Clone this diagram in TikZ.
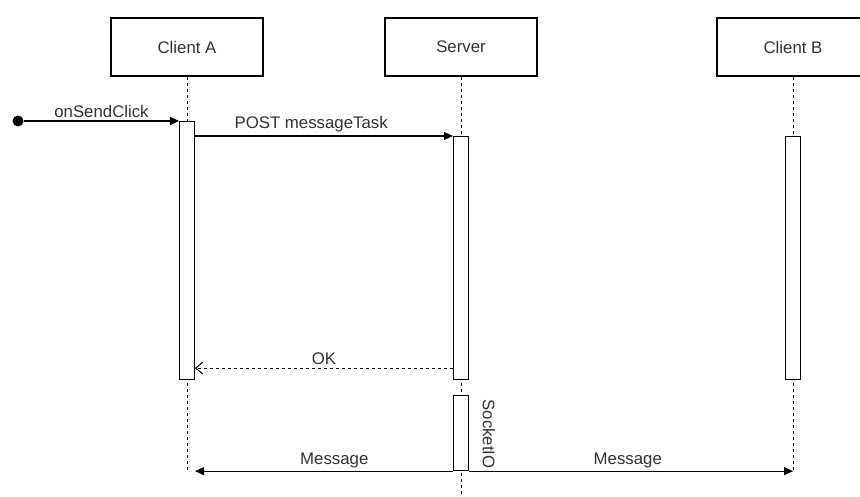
\documentclass[tikz,border=0pt]{standalone}
\usepackage{fontspec}
\setmainfont{Liberation Sans}
\usetikzlibrary{arrows.meta}

\begin{document}
\begin{tikzpicture}[x=1pt,y=-1pt,line width=1.1pt,
    font=\fontsize{16.8}{19}\selectfont,
    actor/.style={draw,minimum width=152pt,minimum height=58pt,text=black!80},
    bar/.style={draw,fill=white,minimum width=15pt,anchor=north,inner sep=0pt},
    life/.style={line width=0.9pt,dash pattern=on 3pt off 3pt},
    msg/.style={-{Triangle[length=9pt,width=8pt]}},
    ret/.style={dashed,-{Straight Barb[length=7pt,width=12pt,line width=1pt]}},
    lbl/.style={text=black!80,inner sep=3pt}]
    \useasboundingbox (0,0) rectangle (860,497);

    % participants
    \node[actor] (clientA) at (187,47) {Client A};
    \node[actor] (server) at (461,47) {Server};
    \node[actor] (clientB) at (793,47) {Client B};

    % lifelines
    \coordinate (endA) at (187,470);
    \coordinate (endS) at (461,497);
    \coordinate (endB) at (793,470);
    \draw[life] (clientA.south) -- (endA);
    \draw[life] (server.south) -- (endS);
    \draw[life] (clientB.south) -- (endB);

    % activations
    \node[bar,minimum height=258pt] (barA) at (187,121) {};
    \node[bar,minimum height=243pt] (barS) at (461,136) {};
    \node[bar,minimum height=75pt] (barIO) at (461,395) {};
    \node[bar,minimum height=243pt] (barB) at (793,136) {};

    % messages
    \node[circle,fill,inner sep=0pt,minimum size=11pt] (start) at (18,121) {};
    \draw[msg] (start) -- node[lbl,above] {onSendClick} (barA.north west);
    \draw[msg] (barS.north west -| barA.east) -- node[lbl,above,pos=0.45] {POST messageTask} (barS.north west);
    \coordinate (ok) at ([yshift=12pt]barS.south west);
    \draw[ret] (ok) -- node[lbl,above] {OK} (ok -| barA.east);
    \draw[msg] (barIO.south west) -- node[lbl,above,pos=0.46] {Message} (barIO.south west -| barA.east);
    \draw[msg] (barIO.south east) -- node[lbl,above,pos=0.49] {Message} (barIO.south east -| endB);
    \node[lbl,rotate=-90,anchor=south west,inner sep=1pt,xshift=3pt,yshift=12pt] (io) at (barIO.north east) {SocketIO};
\end{tikzpicture}
\end{document}
